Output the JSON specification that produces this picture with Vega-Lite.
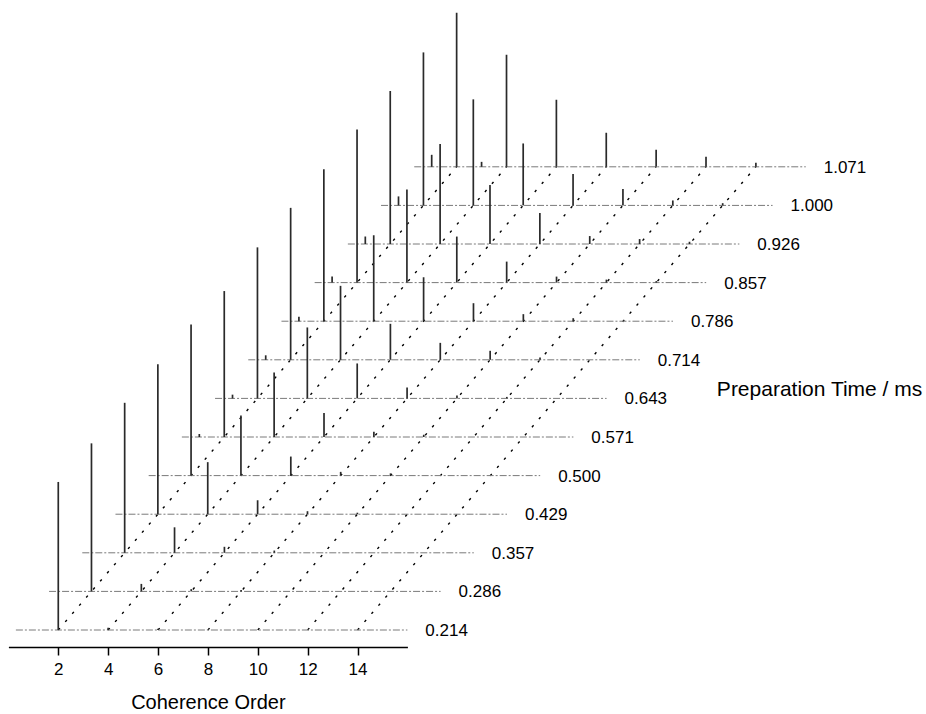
{
  "$schema": "https://vega.github.io/schema/vega-lite/v6.json",
  "width": 918,
  "height": 647,
  "autosize": "none",
  "padding": {"left": 8, "top": 0, "right": 0, "bottom": 67},
  "config": {"view": {"stroke": null}, "font": "Liberation Sans"},
  "datasets": {
    "traces": [
      {"time": "0.214", "trace": 0}, {"time": "0.286", "trace": 1}, {"time": "0.357", "trace": 2},
      {"time": "0.429", "trace": 3}, {"time": "0.500", "trace": 4}, {"time": "0.571", "trace": 5},
      {"time": "0.643", "trace": 6}, {"time": "0.714", "trace": 7}, {"time": "0.786", "trace": 8},
      {"time": "0.857", "trace": 9}, {"time": "0.926", "trace": 10}, {"time": "1.000", "trace": 11},
      {"time": "1.071", "trace": 12}
    ],
    "guides": [{"order": 2}, {"order": 4}, {"order": 6}, {"order": 8}, {"order": 10}, {"order": 12}, {"order": 14}],
    "peaks": [
      {"trace": 0, "order": 2, "intensity": 98.7}, {"trace": 0, "order": 4, "intensity": 1.5}, {"trace": 0, "order": 6, "intensity": 0.8},
      {"trace": 1, "order": 2, "intensity": 98.7}, {"trace": 1, "order": 4, "intensity": 5}, {"trace": 1, "order": 6, "intensity": 1.5}, {"trace": 1, "order": 8, "intensity": 1},
      {"trace": 2, "order": 2, "intensity": 100}, {"trace": 2, "order": 4, "intensity": 17}, {"trace": 2, "order": 6, "intensity": 4}, {"trace": 2, "order": 8, "intensity": 1.5},
      {"trace": 3, "order": 2, "intensity": 100}, {"trace": 3, "order": 4, "intensity": 34.7}, {"trace": 3, "order": 6, "intensity": 9.3}, {"trace": 3, "order": 8, "intensity": 2}, {"trace": 3, "order": 10, "intensity": 1},
      {"trace": 4, "order": 2, "intensity": 100.7}, {"trace": 4, "order": 4, "intensity": 40}, {"trace": 4, "order": 6, "intensity": 12.7}, {"trace": 4, "order": 8, "intensity": 2.5}, {"trace": 4, "order": 10, "intensity": 1.5},
      {"trace": 5, "order": 1, "intensity": 2}, {"trace": 5, "order": 2, "intensity": 97.3}, {"trace": 5, "order": 4, "intensity": 43}, {"trace": 5, "order": 6, "intensity": 16}, {"trace": 5, "order": 8, "intensity": 3.5}, {"trace": 5, "order": 10, "intensity": 1.5},
      {"trace": 6, "order": 1, "intensity": 2.5}, {"trace": 6, "order": 2, "intensity": 100.7}, {"trace": 6, "order": 4, "intensity": 47.3}, {"trace": 6, "order": 6, "intensity": 23.3}, {"trace": 6, "order": 8, "intensity": 7.3}, {"trace": 6, "order": 10, "intensity": 2}, {"trace": 6, "order": 12, "intensity": 1},
      {"trace": 7, "order": 1, "intensity": 3}, {"trace": 7, "order": 2, "intensity": 101.3}, {"trace": 7, "order": 4, "intensity": 49.3}, {"trace": 7, "order": 6, "intensity": 24}, {"trace": 7, "order": 8, "intensity": 11.3}, {"trace": 7, "order": 10, "intensity": 6}, {"trace": 7, "order": 12, "intensity": 1.5},
      {"trace": 8, "order": 1, "intensity": 3}, {"trace": 8, "order": 2, "intensity": 101.3}, {"trace": 8, "order": 4, "intensity": 57.3}, {"trace": 8, "order": 6, "intensity": 29.3}, {"trace": 8, "order": 8, "intensity": 12}, {"trace": 8, "order": 10, "intensity": 4.7}, {"trace": 8, "order": 12, "intensity": 2},
      {"trace": 9, "order": 1, "intensity": 4}, {"trace": 9, "order": 2, "intensity": 102}, {"trace": 9, "order": 4, "intensity": 62}, {"trace": 9, "order": 6, "intensity": 30.7}, {"trace": 9, "order": 8, "intensity": 14}, {"trace": 9, "order": 10, "intensity": 4}, {"trace": 9, "order": 12, "intensity": 2}, {"trace": 9, "order": 14, "intensity": 1},
      {"trace": 10, "order": 1, "intensity": 5}, {"trace": 10, "order": 2, "intensity": 102}, {"trace": 10, "order": 4, "intensity": 66.7}, {"trace": 10, "order": 6, "intensity": 39.3}, {"trace": 10, "order": 8, "intensity": 20.7}, {"trace": 10, "order": 10, "intensity": 5.3}, {"trace": 10, "order": 12, "intensity": 3.3}, {"trace": 10, "order": 14, "intensity": 1.5},
      {"trace": 11, "order": 1, "intensity": 6}, {"trace": 11, "order": 2, "intensity": 102}, {"trace": 11, "order": 4, "intensity": 70.7}, {"trace": 11, "order": 6, "intensity": 41.3}, {"trace": 11, "order": 8, "intensity": 21}, {"trace": 11, "order": 10, "intensity": 11}, {"trace": 11, "order": 12, "intensity": 3.3}, {"trace": 11, "order": 14, "intensity": 1.5},
      {"trace": 12, "order": 1, "intensity": 8}, {"trace": 12, "order": 2, "intensity": 102.7}, {"trace": 12, "order": 3, "intensity": 3.3}, {"trace": 12, "order": 4, "intensity": 74.7}, {"trace": 12, "order": 6, "intensity": 44.7}, {"trace": 12, "order": 8, "intensity": 22.7}, {"trace": 12, "order": 10, "intensity": 11.3}, {"trace": 12, "order": 12, "intensity": 6.7}, {"trace": 12, "order": 14, "intensity": 2.7}
    ]
  },
  "layer": [
    {
      "data": {"name": "guides"},
      "transform": [
        {"calculate": "datum.order", "as": "gx0"},
        {"calculate": "datum.order + 12 * 1.3312", "as": "gx1"},
        {"calculate": "0", "as": "gy0"},
        {"calculate": "12 * 25.733", "as": "gy1"}
      ],
      "mark": {"type": "rule", "color": "#000000", "strokeWidth": 1.4, "strokeDash": [2.5, 8.2]},
      "encoding": {
        "x": {"field": "gx0", "type": "quantitative", "scale": {"domain": [0, 16], "range": [0.4, 399.4]},
          "axis": {"values": [2, 4, 6, 8, 10, 12, 14], "format": "d", "title": "Coherence Order", "grid": false,
            "domainColor": "#000000", "domainWidth": 1.5, "tickColor": "#000000", "tickWidth": 1.5, "tickSize": 8,
            "labelFontSize": 17, "labelColor": "#000000", "labelPadding": 6, "labelFont": "Liberation Sans",
            "titleFontSize": 20, "titleFontWeight": "normal", "titleColor": "#000000", "titlePadding": 15, "titleFont": "Liberation Sans"}},
        "x2": {"field": "gx1"},
        "y": {"field": "gy0", "type": "quantitative", "scale": {"domain": [-11.33, 420]}, "axis": null},
        "y2": {"field": "gy1"}
      }
    },
    {
      "data": {"name": "traces"},
      "transform": [
        {"calculate": "0.3 + 1.3312 * datum.trace", "as": "bx0"},
        {"calculate": "16 + 1.3312 * datum.trace", "as": "bx1"},
        {"calculate": "25.733 * datum.trace", "as": "by"}
      ],
      "mark": {"type": "rule", "color": "#7a7a7a", "strokeWidth": 1, "strokeDash": [7, 2, 2, 2]},
      "encoding": {
        "x": {"field": "bx0", "type": "quantitative", "scale": {"domain": [0, 16], "range": [0.4, 399.4]}},
        "x2": {"field": "bx1"},
        "y": {"field": "by", "type": "quantitative", "scale": {"domain": [-11.33, 420]}}
      }
    },
    {
      "data": {"name": "peaks"},
      "transform": [
        {"calculate": "datum.order + 1.3312 * datum.trace", "as": "px"},
        {"calculate": "25.733 * datum.trace", "as": "py0"},
        {"calculate": "25.733 * datum.trace + datum.intensity", "as": "py1"}
      ],
      "mark": {"type": "rule", "color": "#2a2a2a", "strokeWidth": 1.7},
      "encoding": {
        "x": {"field": "px", "type": "quantitative", "scale": {"domain": [0, 16], "range": [0.4, 399.4]}},
        "y": {"field": "py0", "type": "quantitative", "scale": {"domain": [-11.33, 420]}},
        "y2": {"field": "py1"}
      }
    },
    {
      "data": {"name": "traces"},
      "transform": [
        {"calculate": "16.72 + 1.3312 * datum.trace", "as": "lx"},
        {"calculate": "25.733 * datum.trace", "as": "ly"}
      ],
      "mark": {"type": "text", "align": "left", "baseline": "middle", "fontSize": 17, "color": "#000000", "dy": 1, "font": "Liberation Sans"},
      "encoding": {
        "x": {"field": "lx", "type": "quantitative", "scale": {"domain": [0, 16], "range": [0.4, 399.4]}},
        "y": {"field": "ly", "type": "quantitative", "scale": {"domain": [-11.33, 420]}},
        "text": {"field": "time"}
      }
    },
    {
      "data": {"values": [{"label": "Preparation Time / ms"}]},
      "mark": {"type": "text", "align": "left", "baseline": "middle", "fontSize": 21, "color": "#000000", "font": "Liberation Sans"},
      "encoding": {
        "x": {"datum": 28.41, "type": "quantitative", "scale": {"domain": [0, 16], "range": [0.4, 399.4]}},
        "y": {"datum": 160, "type": "quantitative", "scale": {"domain": [-11.33, 420]}},
        "text": {"field": "label"}
      }
    }
  ]
}
